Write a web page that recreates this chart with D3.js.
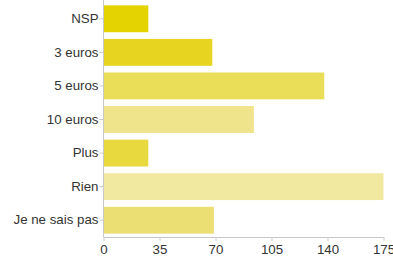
<!DOCTYPE html>
<html>
<head>
<meta charset="utf-8">
<script src="https://cdn.jsdelivr.net/npm/d3@7"></script>
<style>
  body { margin: 0; background: #fff; }
  svg { display: block; font-family: "Liberation Sans", Arial, sans-serif; }
</style>
</head>
<body>
<svg width="393" height="259"></svg>
<script>
const categories = ["NSP", "3 euros", "5 euros", "10 euros", "Plus", "Rien", "Je ne sais pas"];
const values = [28, 68, 138, 94, 28, 175, 69];
const barColors = ["#e5d300", "#e6d421", "#eadd58", "#efe48b", "#e8da3e", "#f1e9a0", "#ebdf74"];
const xTicks = [0, 35, 70, 105, 140, 175];

const svg = d3.select("svg");
const margin = { left: 103.5, right: 9.5, top: 2, bottom: 22 };
const width = 393, height = 259;

const x = d3.scaleLinear().domain([0, 175]).range([margin.left, width - margin.right]);
const y = d3.scaleBand().domain(categories).range([margin.top, height - margin.bottom]).paddingInner(0.2).paddingOuter(0.1);

svg.append("g")
  .selectAll("rect")
  .data(categories)
  .join("rect")
  .attr("x", x(0))
  .attr("y", d => y(d))
  .attr("width", (d, i) => x(values[i]) - x(0))
  .attr("height", y.bandwidth())
  .attr("fill", (d, i) => barColors[i]);

const axisColor = "#c8c8c8";

const yAxis = svg.append("g")
  .attr("transform", `translate(${x(0)},0)`)
  .call(d3.axisLeft(y).tickSize(4).tickSizeOuter(0));
yAxis.select(".domain").attr("stroke", axisColor).attr("d", `M0,0V${height - margin.bottom}`);
yAxis.selectAll(".tick line").attr("stroke", axisColor);
yAxis.selectAll(".tick text").attr("fill", "#333").attr("font-size", 13.3).attr("x", -5);

const xAxis = svg.append("g")
  .attr("transform", `translate(0,${height - margin.bottom})`)
  .call(d3.axisBottom(x).tickValues(xTicks).tickSize(4).tickSizeOuter(0));
xAxis.select(".domain").attr("stroke", axisColor);
xAxis.selectAll(".tick line").attr("stroke", axisColor);
xAxis.selectAll(".tick text").attr("fill", "#333").attr("font-size", 13.3).attr("y", 8);
</script>
</body>
</html>
